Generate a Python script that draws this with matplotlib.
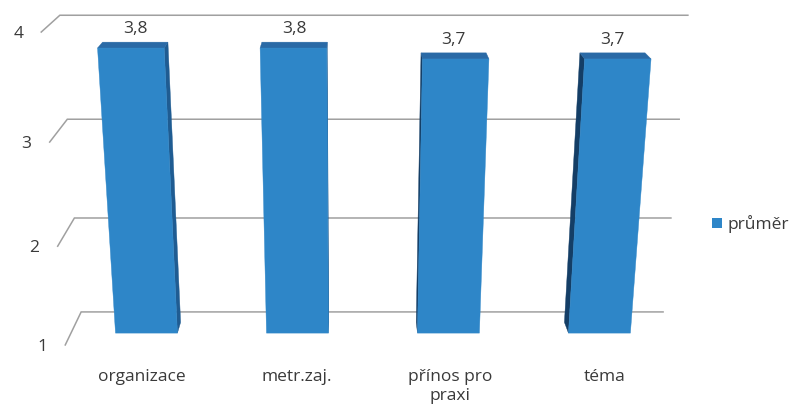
import numpy as np
import matplotlib
matplotlib.use("Agg")
import matplotlib.pyplot as plt
from matplotlib.patches import Polygon, Patch

# chart data
categories = ["organizace", "metr.zaj.", "přínos pro\npraxi", "téma"]
prumer = [3.8, 3.8, 3.7, 3.7]
value_ticks = [1, 2, 3, 4]
series_name = "průměr"

plt.rcParams["font.family"] = ["Open Sans", "DejaVu Sans"]
FS = 12.5
TEXT = "#3a3a3a"
GRID = "#a0a0a0"
FRONT, TOP, SIDE_R, SIDE_L = "#2e86c8", "#2a6aa6", "#1f5c92", "#143e66"

# 3D scene, in units of one category width
VAL_H = 0.687                 # height of one value unit
WALL_DEPTH = 0.52             # depth of the floor / side wall
BAR_W = 0.41
BAR_Z = (0.17, 0.34)          # back and front of the columns
CAM = np.array([1.848, 4.332, 8.104])
TILT = np.radians(18.36)      # camera looks down by this angle
FOCAL, CX, CY = 1286.0, 350.0, 180.0   # image plane in pixels
W, H = 798, 408
Y0 = value_ticks[0]


def proj(x, v, z):
    """world point -> camera image plane (u, w)"""
    d0, d1, d2 = x - CAM[0], v * VAL_H - CAM[1], z - CAM[2]
    yc = d1 * np.cos(TILT) - d2 * np.sin(TILT)
    zc = -d1 * np.sin(TILT) - d2 * np.cos(TILT)
    return d0 / zc, yc / zc


def face(pts, color, z):
    ax.add_patch(Polygon([proj(*p) for p in pts], closed=True, facecolor=color,
                         edgecolor=color, lw=0.3, zorder=z))


fig = plt.figure(figsize=(W / 100, H / 100), dpi=100)
ax = fig.add_axes([0, 0, 1, 1])
ax.set_xlim(-CX / FOCAL, (W - CX) / FOCAL)
ax.set_ylim(-(H - CY) / FOCAL, CY / FOCAL)
ax.set_axis_off()

n = len(categories)

# gridlines on back wall + left wall, value labels at the front
for v in value_ticks:
    xs, ys = zip(proj(0, v, WALL_DEPTH), proj(0, v, 0), proj(n, v, 0))
    ax.plot(xs, ys, color=GRID, lw=1.1, zorder=1, solid_joinstyle="miter")
    ax.annotate(str(v), proj(0, v, WALL_DEPTH), xytext=(-13, -1.5),
                textcoords="offset points", ha="right", va="center",
                fontsize=FS, color=TEXT)

# columns
for i, (cat, val) in enumerate(zip(categories, prumer)):
    x0, x1 = i + 0.5 - BAR_W / 2, i + 0.5 + BAR_W / 2
    zb, zf = BAR_Z
    if x0 > CAM[0]:
        face([(x0, Y0, zb), (x0, Y0, zf), (x0, val, zf), (x0, val, zb)], SIDE_L, 2)
    if x1 < CAM[0]:
        face([(x1, Y0, zb), (x1, Y0, zf), (x1, val, zf), (x1, val, zb)], SIDE_R, 2)
    face([(x0, val, zb), (x1, val, zb), (x1, val, zf), (x0, val, zf)], TOP, 3)
    face([(x0, Y0, zf), (x1, Y0, zf), (x1, val, zf), (x0, val, zf)], FRONT, 4)

    ax.annotate(f"{val:.1f}".replace(".", ","), proj(i + 0.5, val, zb),
                xytext=(0, 9.5), textcoords="offset points", ha="center",
                va="center", fontsize=FS, color=TEXT)
    ax.annotate(cat, proj(i + 0.5, Y0, WALL_DEPTH), xytext=(0, -17),
                textcoords="offset points", ha="center", va="top",
                fontsize=FS, color=TEXT, linespacing=1.3)

fig.legend(handles=[Patch(facecolor=FRONT, label=series_name)],
           loc="center left", bbox_to_anchor=(712 / W, 1 - 224 / H),
           frameon=False, handlelength=0.55, handleheight=0.55,
           handletextpad=0.35, borderpad=0, borderaxespad=0,
           fontsize=FS, labelcolor=TEXT)

fig.savefig("out.png", dpi=100)
